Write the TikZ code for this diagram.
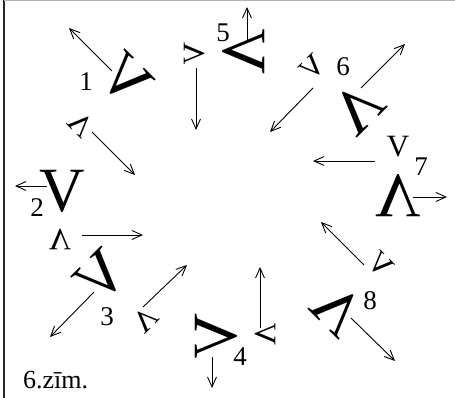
\documentclass[tikz,border=0pt]{standalone}
\usepackage{fontspec}
\setmainfont{Liberation Serif}
\usepackage{graphicx}
\usetikzlibrary{arrows.meta}

\newcommand{\mirV}{\reflectbox{V}}

\begin{document}
\begin{tikzpicture}[x=1pt, y=-1pt,
    bigV/.style={inner sep=0pt, font=\fontsize{63}{63}\selectfont},
    smallV/.style={inner sep=0pt, font=\fontsize{31}{31}\selectfont},
    lab/.style={inner sep=0pt, font=\fontsize{27}{27}\selectfont},
    mv/.style={-{Straight Barb[length=10pt, width=9pt]}, line width=0.9pt}]
        \useasboundingbox (0,0) rectangle (455,398);
        \draw[line width=2.2pt, black!85] (4,0) -- (4,398);
        \draw[line width=1pt, black!30] (4,0.5) -- (455,0.5);

        % 1
        \node[bigV, rotate=-45] (big1) at (126,79) {\mirV};
        \node[smallV, rotate=135] (sm1) at (81,124) {\mirV};
        \node[lab] (n1) at (86,82) {1};
        % 2
        \node[bigV] (big2) at (62,191) {V};
        \node[smallV, rotate=180] (sm2) at (60,239) {\mirV};
        \node[lab] (n2) at (37,208) {2};
        % 3
        \node[bigV, rotate=45] (big3) at (101,276) {\mirV};
        \node[smallV, rotate=-135] (sm3) at (145,320) {\mirV};
        \node[lab] (n3) at (107,317) {3};
        % 4
        \node[bigV, rotate=90] (big4) at (216,336) {\mirV};
        \node[smallV, rotate=-90] (sm4) at (265,334) {\mirV};
        \node[lab] (n4) at (240,357) {4};
        % 5
        \node[bigV, rotate=-90] (big5) at (244,52) {\mirV};
        \node[smallV, rotate=90] (sm5) at (195,54) {\mirV};
        \node[lab] (n5) at (223,33) {5};
        % 6
        \node[bigV, rotate=-135] (big6) at (358,108) {\mirV};
        \node[smallV, rotate=45] (sm6) at (313,67) {\mirV};
        \node[lab] (n6) at (343,67) {6};
        % 7
        \node[bigV, rotate=180] (big7) at (398,196) {\mirV};
        \node[smallV] (sm7) at (398,147) {V};
        \node[lab] (n7) at (421,167) {7};
        % 8
        \node[bigV, rotate=135] (big8) at (338,310) {\mirV};
        \node[smallV, rotate=-45] (sm8) at (381,265) {\mirV};
        \node[lab] (n8) at (370,301) {8};

        \node[anchor=base west, inner sep=0pt, font=\fontsize{26}{26}\selectfont]
          (cap) at (23,388) {6.zīm.};

        % arrow ends
        \foreach \n/\x/\y in {p1/112/71, q1/69/28, r1/92/132, t1/135/175,
                              p2/47/186, q2/15/186, r2/82/235, t2/143/235,
                              p3/94/292, q3/50/337, r3/143/307, t3/187/265,
                              p4/212/357, q4/212/388, r4/260/328, t4/260/267,
                              p5/247/40, q5/247/7, r5/196/68, t5/196/130,
                              p6/361/88, q6/405/44, r6/313/88, t6/270/132,
                              p7/413/197, q7/447/197, r7/375/161, t7/313/161,
                              p8/351/318, q8/395/361, r8/364/265, t8/321/222}
          \coordinate (\n) at (\x,\y);
        \foreach \i in {1,...,8} {
          \draw[mv] (p\i) -- (q\i);
          \draw[mv] (r\i) -- (t\i);
        }
\end{tikzpicture}
\end{document}
